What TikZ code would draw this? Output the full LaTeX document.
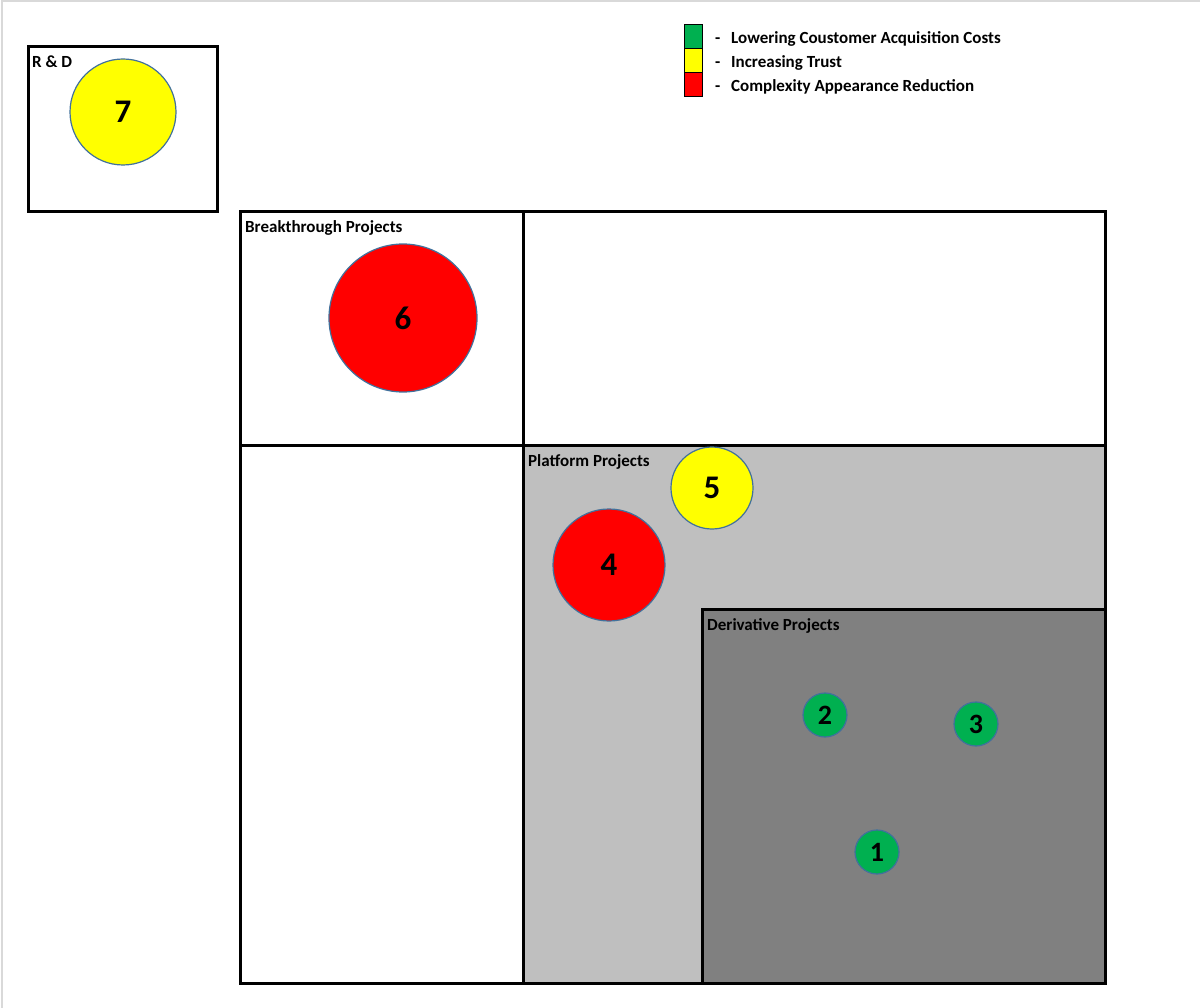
\documentclass[tikz,border=0pt]{standalone}
\usepackage{fontspec}
\setmainfont{Carlito}
\begin{document}
\begin{tikzpicture}[x=1pt,y=-1pt,
  frame/.style={line width=3pt,draw=black},
  bubble/.style={circle,draw=outl,line width=1.2pt,inner sep=0pt,font=\bfseries\fontsize{33}{33}\selectfont},
  small/.style={bubble,font=\bfseries\fontsize{28}{28}\selectfont},
  lbl/.style={anchor=base west,inner sep=0pt,font=\bfseries\fontsize{17}{18}\selectfont},
  key/.style={draw=black,line width=1pt,minimum width=18pt,minimum height=24pt,inner sep=0pt,anchor=north west}]
\definecolor{gr}{HTML}{00B050}
\definecolor{ye}{HTML}{FFFF00}
\definecolor{re}{HTML}{FF0000}
\definecolor{outl}{HTML}{41719C}
\definecolor{lg}{HTML}{BFBFBF}
\definecolor{dg}{HTML}{808080}
\definecolor{edge}{HTML}{D9D9D9}
\useasboundingbox (0,0) rectangle (1200,1008);
\fill[white] (0,0) rectangle (1200,1008);
\draw[edge,line width=1.5pt] (2,1008) -- (2,1) -- (1200,1);
% R & D box
\draw[frame] (28,47) rectangle (217,212);
\node[lbl] (rdl) at (32,68) {R \& D};
\node[bubble,fill=ye,minimum size=106pt] (c7) at (123,112) {7};
% grid
\fill[lg] (523,445) rectangle (1105,983);
\fill[dg] (702,609) rectangle (1105,983);
\draw[frame] (240,212) rectangle (1105,983);
\draw[frame] (240,445) -- (1105,445);
\draw[frame] (523,212) -- (523,983);
\draw[frame] (702,983) -- (702,609) -- (1105,609);
\node[lbl] (bl) at (245,232.5) {Breakthrough Projects};
\node[lbl] (pl) at (528,466.5) {Platform Projects};
\node[lbl] (dl) at (707,630) {Derivative Projects};
% bubbles
\node[bubble,fill=re,minimum size=148pt] (c6) at (403,318) {6};
\node[bubble,fill=ye,minimum size=82pt] (c5) at (712,488) {5};
\node[bubble,fill=re,minimum size=112pt] (c4) at (609,565) {4};
\node[small,fill=gr,minimum size=44pt] (c2) at (825,715) {2};
\node[small,fill=gr,minimum size=44pt] (c3) at (976,724) {3};
\node[small,fill=gr,minimum size=44pt] (c1) at (877,852) {1};
% legend
\node[key,fill=gr] (kg) at (684,24) {};
\node[key,fill=ye] (ky) at (684,48) {};
\node[key,fill=re] (kr) at (684,72) {};
\node[lbl] (d1) at (715,43.5) {-};
\node[lbl] (d2) at (715,67.5) {-};
\node[lbl] (d3) at (715,91.5) {-};
\node[lbl] (t1) at (731,43.5) {Lowering Coustomer Acquisition Costs};
\node[lbl] (t2) at (731,67.5) {Increasing Trust};
\node[lbl] (t3) at (731,91.5) {Complexity Appearance Reduction};
\end{tikzpicture}
\end{document}
